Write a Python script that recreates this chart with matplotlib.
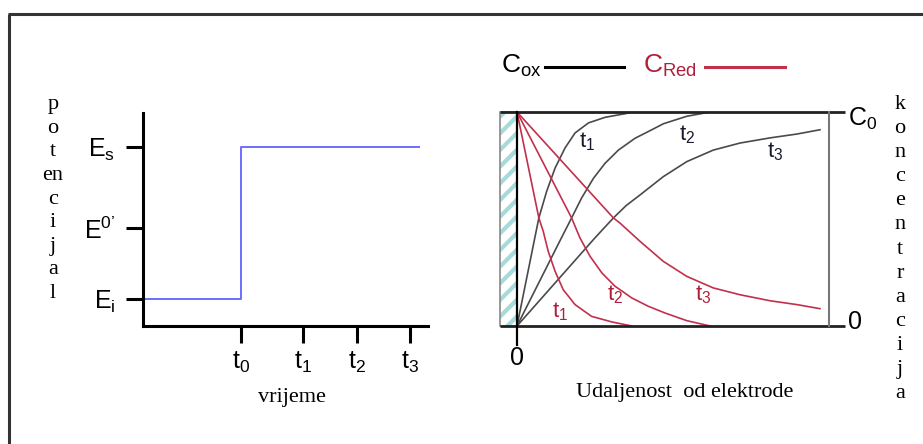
import matplotlib
matplotlib.use('Agg')
import matplotlib.pyplot as plt
from matplotlib.patches import Rectangle

plt.rcParams['mathtext.fontset'] = 'custom'
plt.rcParams['mathtext.rm'] = 'Liberation Sans'
plt.rcParams['mathtext.it'] = 'Liberation Sans:italic'
plt.rcParams['hatch.linewidth'] = 3.0

SANS = 'Liberation Sans'
SERIF = 'Liberation Serif'
BLUE = '#6e6eff'
RED = '#c2304c'
RED_TXT = '#b01e3c'
GREY = '#4a4a4a'
CYAN = '#a6dadb'

# ---- left panel: potential step ----
t_ticks = [2.0, 3.27, 4.37, 5.45]
t_labels = [r'$\mathrm{t_0}$', r'$\mathrm{t_1}$', r'$\mathrm{t_2}$', r'$\mathrm{t_3}$']
E_ticks = [0.27, 0.98, 1.79]
E_labels = [r'$\mathrm{E_i}$', r"$\mathrm{E^{0’}}$", r'$\mathrm{E_s}$']
step_t = [0.0, 2.0, 5.63]
step_E = [0.27, 1.79, 1.79]

# ---- right panel: concentration profiles (x = distance, y = C/C0) ----
ox_t1_x = [0, 0.70, 0.95, 1.22, 1.54, 1.86, 2.29, 2.82, 3.57, 3.69]
ox_t1_y = [0, 0.505, 0.629, 0.738, 0.832, 0.902, 0.949, 0.975, 0.995, 1.0]
ox_t2_x = [0, 1.40, 1.75, 2.07, 2.45, 2.82, 3.25, 3.78, 4.32, 4.69, 5.44, 6.19]
ox_t2_y = [0, 0.405, 0.505, 0.598, 0.690, 0.760, 0.822, 0.877, 0.917, 0.945, 0.980, 1.0]
ox_t3_x = [0, 2.50, 3.09, 3.50, 3.94, 4.69, 5.44, 6.29, 7.15, 8.11, 8.97, 9.71]
ox_t3_y = [0, 0.412, 0.505, 0.563, 0.612, 0.698, 0.768, 0.822, 0.855, 0.879, 0.897, 0.917]

red_t1_x = [0, 0.70, 0.84, 1.00, 1.22, 1.48, 1.86, 2.39, 3.04, 3.68]
red_t1_y = [1, 0.505, 0.443, 0.349, 0.256, 0.170, 0.100, 0.045, 0.019, 0.0]
red_t2_x = [0, 1.75, 2.02, 2.34, 2.72, 3.14, 3.68, 4.21, 4.74, 5.44, 6.19]
red_t2_y = [1, 0.505, 0.411, 0.326, 0.248, 0.186, 0.131, 0.092, 0.061, 0.025, 0.0]
red_t3_x = [0, 3.09, 3.30, 3.94, 4.69, 5.44, 6.29, 7.15, 8.11, 8.97, 9.71]
red_t3_y = [1, 0.505, 0.481, 0.396, 0.302, 0.232, 0.178, 0.146, 0.118, 0.100, 0.081]

ox_curves = [(ox_t1_x, ox_t1_y), (ox_t2_x, ox_t2_y), (ox_t3_x, ox_t3_y)]
red_curves = [(red_t1_x, red_t1_y), (red_t2_x, red_t2_y), (red_t3_x, red_t3_y)]
ox_label_pos = [(2.23, 0.863), (5.44, 0.894), (8.27, 0.816)]
red_label_pos = [(1.38, 0.069), (3.14, 0.146), (5.97, 0.146)]
time_names = [r'$\mathrm{t_1}$', r'$\mathrm{t_2}$', r'$\mathrm{t_3}$']

W, H = 923, 444
fig = plt.figure(figsize=(W / 100, H / 100), dpi=100)

# overlay in pixel coordinates for frame, legend and stacked letters
ov = fig.add_axes([0, 0, 1, 1])
ov.set_xlim(0, W)
ov.set_ylim(H, 0)
ov.axis('off')
ov.plot([8, W], [14, 14], color='#333333', lw=2.2, solid_capstyle='butt')
ov.plot([9, 9], [14, H], color='#333333', lw=2.2, solid_capstyle='butt')

ov.text(53, 199, 'p\no\nt\nen\nc\ni\nj\na\nl', family=SERIF, fontsize=16,
        ha='center', va='center', linespacing=1.33)
ov.text(900, 249, 'k\no\nn\nc\ne\nn\nt\nr\na\nc\ni\nj\na', family=SERIF, fontsize=16,
        ha='center', va='center', linespacing=1.36)

# legend
ov.text(501, 66, r'$\mathrm{C_{ox}}$', family=SANS, fontsize=19, ha='left', va='center')
ov.plot([545, 624], [67, 67], color='black', lw=2.2)
ov.text(643, 66, r'$\mathrm{C_{Red}}$', family=SANS, fontsize=19, ha='left', va='center', color=RED_TXT)
ov.plot([705, 785], [67, 67], color=RED, lw=2.2)

# ---- left axes ----
axL = fig.add_axes([143 / W, (H - 326) / H, 285 / W, 213 / H], facecolor='none')
axL.step(step_t, step_E, where='post', color=BLUE, lw=1.4)
axL.set_xlim(0, 5.82)
axL.set_ylim(0, 2.13)
for s in ['top', 'right']:
    axL.spines[s].set_visible(False)
for s in ['left', 'bottom']:
    axL.spines[s].set_linewidth(2.2)
axL.set_xticks(t_ticks)
axL.set_xticklabels(t_labels, family=SANS, fontsize=18)
axL.set_yticks(E_ticks)
axL.set_yticklabels(E_labels, family=SANS, fontsize=18)
axL.tick_params(axis='both', direction='out', length=12, width=2.2)
axL.tick_params(axis='x', pad=5)
axL.tick_params(axis='y', pad=8)
axL.text(0.523, -0.338, 'vrijeme', family=SERIF, fontsize=16, ha='center', va='center',
         transform=axL.transAxes)

# ---- right axes ----
axR = fig.add_axes([517 / W, (H - 326) / H, 312 / W, 214 / H], facecolor='none')
axR.set_xlim(0, 10)
axR.set_ylim(0, 1)
axR.axis('off')
for (x, y) in ox_curves:
    axR.plot(x, y, color=GREY, lw=1.2)
for (x, y) in red_curves:
    axR.plot(x, y, color=RED, lw=1.2)
for (px, py), lab in zip(ox_label_pos, time_names):
    axR.text(px, py, lab, family=SANS, fontsize=16, color='#1a1a2e', ha='center', va='center')
for (px, py), lab in zip(red_label_pos, time_names):
    axR.text(px, py, lab, family=SANS, fontsize=16, color=RED_TXT, ha='center', va='center')

# electrode: hatched strip and its border
axR.add_patch(Rectangle((-0.545, 0), 0.545, 1, facecolor='white', edgecolor=CYAN,
                        hatch='//', lw=0, clip_on=False))
axR.add_patch(Rectangle((-0.545, 0), 0.545, 1, facecolor='none', edgecolor='#888888',
                        lw=1.2, clip_on=False))
axR.plot([-0.545, 10.5], [1, 1], color='#222222', lw=2.0, clip_on=False, solid_capstyle='butt')
axR.plot([-0.545, 10.5], [0, 0], color='#222222', lw=2.0, clip_on=False, solid_capstyle='butt')
axR.plot([10, 10], [0, 1], color='#777777', lw=1.5, clip_on=False)
axR.plot([0, 0], [-0.09, 1], color='black', lw=1.6, clip_on=False)
axR.text(10.6, 0.97, r'$\mathrm{C_0}$', family=SANS, fontsize=18, ha='left', va='center')
axR.text(10.6, 0.02, '0', family=SANS, fontsize=18, ha='left', va='center')
axR.text(0, -0.15, '0', family=SANS, fontsize=18, ha='center', va='center')
axR.text(5.38, -0.313, 'Udaljenost  od elektrode', family=SERIF, fontsize=16,
         ha='center', va='center')

fig.savefig('out.png', dpi=100)
